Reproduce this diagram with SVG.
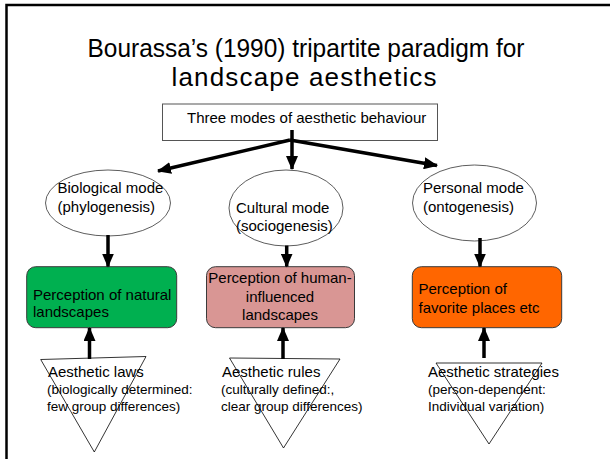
<svg xmlns="http://www.w3.org/2000/svg" width="610" height="459" viewBox="0 0 610 459">
<defs>
<marker id="ah" markerUnits="userSpaceOnUse" markerWidth="14" markerHeight="12" refX="13" refY="6" orient="auto">
<path d="M0,0 L14,6 L0,12 Z" fill="#000"/>
</marker>
<style>
.t{font-family:"Liberation Sans",Arial,sans-serif;fill:#000}
.n{font-size:15px}
.s{font-size:13.5px}
.ttl{font-size:26px;text-anchor:middle}
.ell{fill:#fff;stroke:#333;stroke-width:0.8}
.box{stroke:#3a3a3a;stroke-width:1}
.tri{fill:none;stroke:#000;stroke-width:0.8}
.c{stroke:#000;stroke-width:3.5;fill:none;marker-end:url(#ah)}
</style>
</defs>
<rect width="610" height="459" fill="#fff"/>
<path d="M6.5,459 L6.5,5 L610,5" fill="none" stroke="#000" stroke-width="2.5"/>
<g id="title">
<text class="t ttl" x="306" y="57" textLength="437" lengthAdjust="spacingAndGlyphs">Bourassa’s (1990) tripartite paradigm for</text>
<text class="t ttl" x="304" y="86" textLength="265" lengthAdjust="spacing">landscape aesthetics</text>
</g>
<g id="modes">
<rect x="162.5" y="104" width="275" height="36.5" fill="#fff" stroke="#555" stroke-width="1"/>
<text class="t n" x="187" y="123">Three modes of aesthetic behaviour</text>
</g>
<g id="bio">
<ellipse class="ell" cx="108" cy="203" rx="62.5" ry="33"/>
<text class="t n" x="57.5" y="193">Biological mode</text>
<text class="t n" x="57.5" y="211.5">(phylogenesis)</text>
</g>
<g id="cult">
<ellipse class="ell" cx="286" cy="208" rx="57" ry="38"/>
<text class="t n" x="236" y="212.5">Cultural mode</text>
<text class="t n" x="236" y="231">(sociogenesis)</text>
</g>
<g id="pers">
<ellipse class="ell" cx="474.5" cy="203" rx="62" ry="38"/>
<text class="t n" x="423" y="192.5">Personal mode</text>
<text class="t n" x="423" y="211.5">(ontogenesis)</text>
</g>
<g id="natural">
<rect class="box" x="26.7" y="266.7" width="150" height="61" rx="9" fill="#00B050"/>
<text class="t n" x="33" y="300">Perception of natural</text>
<text class="t n" x="33" y="317">landscapes</text>
</g>
<g id="human">
<rect class="box" x="206.5" y="266.7" width="148" height="61" rx="9" fill="#D99694"/>
<text class="t n" x="280" y="283" text-anchor="middle">Perception of human-</text>
<text class="t n" x="280" y="301.5" text-anchor="middle">influenced</text>
<text class="t n" x="280" y="320" text-anchor="middle">landscapes</text>
</g>
<g id="favorite">
<rect class="box" x="412.3" y="266.7" width="149.4" height="61" rx="9" fill="#FF6600"/>
<text class="t n" x="418.5" y="293.5">Perception of</text>
<text class="t n" x="418.5" y="312.5">favorite places etc</text>
</g>
<g id="laws">
<polygon class="tri" points="40.7,359.5 146,356.5 94.3,452"/>
<text class="t n" x="48" y="377">Aesthetic laws</text>
<text class="t s" x="47" y="394">(biologically determined:</text>
<text class="t s" x="47" y="411">few group differences)</text>
</g>
<g id="rules">
<polygon class="tri" points="229.5,358 340,359 283.5,448"/>
<text class="t n" x="222" y="377">Aesthetic rules</text>
<text class="t s" x="221" y="394">(culturally defined:,</text>
<text class="t s" x="221" y="411">clear group differences)</text>
</g>
<g id="strategies">
<polygon class="tri" points="436,363 542,363 489,444"/>
<text class="t n" x="428" y="377">Aesthetic strategies</text>
<text class="t s" x="428" y="394">(person-dependent:</text>
<text class="t s" x="428" y="411">Individual variation)</text>
</g>
<g id="connectors">
<line class="c" x1="290" y1="140" x2="158" y2="171"/>
<line class="c" x1="292" y1="130" x2="292" y2="169"/>
<line class="c" x1="290" y1="140" x2="437" y2="165.5"/>
<line class="c" x1="108" y1="235" x2="108" y2="266.5"/>
<line class="c" x1="286.7" y1="245.5" x2="286.7" y2="266.5"/>
<line class="c" x1="480" y1="238" x2="480" y2="266.5"/>
<line class="c" x1="89.5" y1="359" x2="89.5" y2="328"/>
<line class="c" x1="283" y1="359" x2="283" y2="328"/>
<line class="c" x1="484" y1="358" x2="484" y2="328"/>
</g>
</svg>
